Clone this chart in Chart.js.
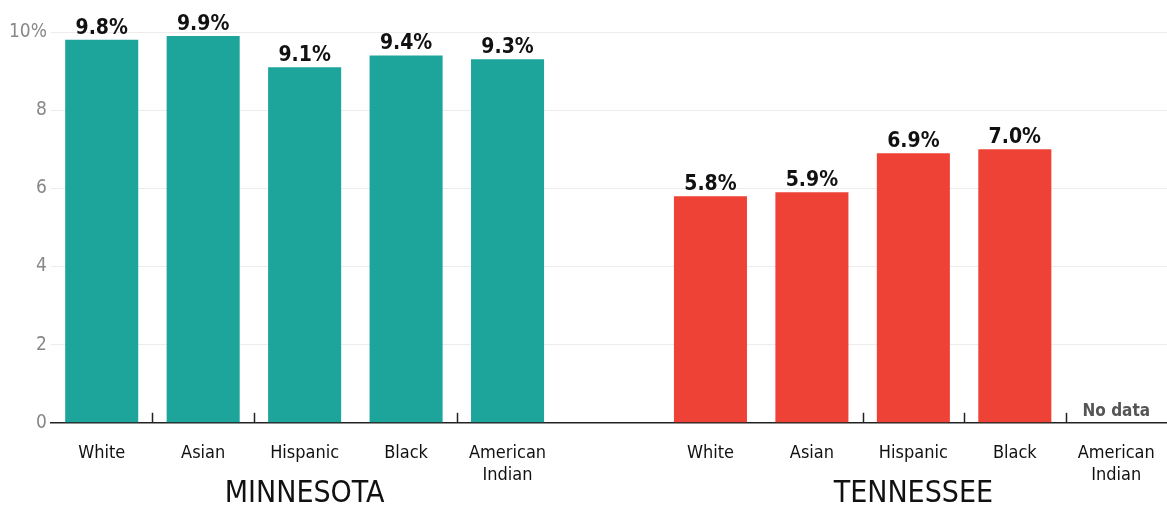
<!DOCTYPE html>
<html>
<head>
<meta charset="utf-8">
<script src="https://cdn.jsdelivr.net/npm/chart.js@4/dist/chart.umd.min.js"></script>
<style>
  body { margin: 0; background: #fff; }
  #wrap { width: 1167px; height: 507px; }
</style>
</head>
<body>
<div id="wrap"><canvas id="myChart"></canvas></div>
<script>
const FONT = '"DejaVu Sans Condensed", Roboto, sans-serif';

// Daten
const groups = ['MINNESOTA', 'TENNESSEE'];
const categories = ['White', 'Asian', 'Hispanic', 'Black', ['American', 'Indian']];
const minnesotaValues = [9.8, 9.9, 9.1, 9.4, 9.3];
const tennesseeValues = [5.8, 5.9, 6.9, 7.0, null];
const yTicks = [0, 2, 4, 6, 8, 10];
// Tick-Striche auf der x-Achse (zwischen Index i und i+1)
const tickAfter = [0, 1, 3, 7, 8, 9];

const colMN = '#1ea59b';
const colTN = '#ef4237';

// 5 + Lücke + 5
const labels = [...categories, '', ...categories];
const values = [...minnesotaValues, null, ...tennesseeValues];
const colors = [...minnesotaValues.map(() => colMN), 'rgba(0,0,0,0)', ...tennesseeValues.map(() => colTN)];

const extras = {
  id: 'extras',
  afterDatasetsDraw(chart) {
    const ctx = chart.ctx;
    const x = chart.scales.x;
    const y = chart.scales.y;
    const meta = chart.getDatasetMeta(0);
    ctx.save();
    // Werte über den Balken
    ctx.fillStyle = '#111';
    ctx.font = 'bold 21px ' + FONT;
    ctx.textAlign = 'center';
    ctx.textBaseline = 'bottom';
    meta.data.forEach((bar, i) => {
      if (values[i] == null) return;
      ctx.fillText(values[i].toFixed(1) + '%', bar.x, bar.y - 1);
    });
    // No data
    ctx.fillStyle = '#555';
    ctx.font = 'bold 17px ' + FONT;
    ctx.fillText('No data', x.getPixelForValue(10), y.getPixelForValue(0) - 3);
    // Striche
    ctx.strokeStyle = '#222';
    ctx.lineWidth = 1.5;
    const y0 = y.getPixelForValue(0);
    for (const i of tickAfter) {
      const px = Math.round((x.getPixelForValue(i) + x.getPixelForValue(i + 1)) / 2) + 0.5;
      ctx.beginPath();
      ctx.moveTo(px, y0);
      ctx.lineTo(px, y0 - 10);
      ctx.stroke();
    }
    // Gruppen
    ctx.fillStyle = '#111';
    ctx.font = '30px ' + FONT;
    ctx.textBaseline = 'middle';
    ctx.fillText(groups[0], x.getPixelForValue(2), 494);
    ctx.fillText(groups[1], x.getPixelForValue(8), 494);
    ctx.restore();
  }
};

new Chart(document.getElementById('myChart'), {
  type: 'bar',
  data: {
    labels: labels,
    datasets: [{
      data: values,
      backgroundColor: colors,
      barPercentage: 0.72,
      categoryPercentage: 1
    }]
  },
  plugins: [extras],
  options: {
    responsive: true,
    maintainAspectRatio: false,
    animation: false,
    layout: { padding: { top: 32, right: 0, bottom: 9, left: 5 } },
    plugins: { legend: { display: false }, tooltip: { enabled: false } },
    scales: {
      y: {
        min: 0,
        max: 10,
        afterBuildTicks: (axis) => { axis.ticks = yTicks.map(v => ({ value: v })); },
        border: { display: false },
        grid: { color: '#ececec', drawTicks: false },
        ticks: {
          padding: 4,
          color: '#888',
          font: { family: FONT, size: 19 },
          callback: (v) => v === 10 ? '10%' : v
        }
      },
      x: {
        border: { display: true, color: '#222', width: 1.5 },
        grid: { display: false },
        ticks: {
          color: '#111',
          padding: 12,
          maxRotation: 0,
          autoSkip: false,
          font: { family: FONT, size: 18 }
        }
      }
    }
  }
});
</script>
</body>
</html>
